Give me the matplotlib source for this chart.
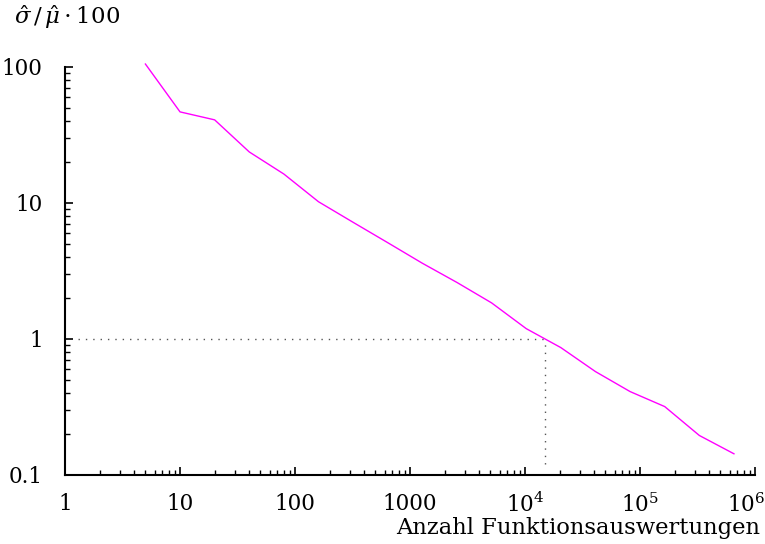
import matplotlib
matplotlib.use("Agg")
import matplotlib.pyplot as plt
from matplotlib.ticker import FixedLocator, FixedFormatter, LogLocator
from matplotlib.transforms import ScaledTranslation

# sample counts (function evaluations) and relative std-error in percent
n_eval = [5, 10, 20, 40, 80, 160, 320, 640, 1280, 2560, 5120,
          10240, 20480, 40960, 81920, 163840, 327680, 655360]
rel_err = [105, 46.7, 40.8, 23.7, 16.3, 10.2, 7.2, 5.1, 3.6, 2.6, 1.84,
           1.19, 0.863, 0.575, 0.41, 0.318, 0.195, 0.143]

target_err = 1.0
target_n = 15000

xticks = [1, 10, 100, 1000, 1e4, 1e5, 1e6]
xticklabels = ["1", "10", "100", "1000", r"$10^4$", r"$10^5$", r"$10^6$"]
yticks = [0.1, 1, 10, 100]
yticklabels = ["0.1", "1", "10", "100"]

plt.rcParams["font.family"] = ["DejaVu Serif"]
plt.rcParams["mathtext.fontset"] = "dejavuserif"

fig = plt.figure(figsize=(7.65, 5.44), dpi=100)
ax = fig.add_axes([0.085, 0.127, 0.902, 0.750])

ax.plot(n_eval, rel_err, color="#ff00ff", lw=1.0, clip_on=False)
ax.plot([1.3, target_n], [target_err, target_err], color="#555555", lw=1.0,
        ls=(0, (1, 4.3)))
ax.plot([target_n, target_n], [0.12, target_err], color="#555555", lw=1.0,
        ls=(0, (1, 4.3)))

ax.set_xscale("log"); ax.set_yscale("log")
ax.set_xlim(1, 1e6); ax.set_ylim(0.1, 100)
for s in ["top", "right"]:
    ax.spines[s].set_visible(False)
for s in ["left", "bottom"]:
    ax.spines[s].set_linewidth(1.5)

ax.xaxis.set_major_locator(FixedLocator(xticks))
ax.xaxis.set_major_formatter(FixedFormatter(xticklabels))
ax.yaxis.set_major_locator(FixedLocator(yticks))
ax.yaxis.set_major_formatter(FixedFormatter(yticklabels))
ax.xaxis.set_minor_locator(LogLocator(base=10, subs=range(2, 10)))
ax.yaxis.set_minor_locator(LogLocator(base=10, subs=range(2, 10)))
ax.xaxis.set_minor_formatter(FixedFormatter([]))
ax.yaxis.set_minor_formatter(FixedFormatter([]))
ax.tick_params(which="major", direction="in", length=6, width=1.2, labelsize=15.5)
ax.tick_params(which="minor", direction="in", length=3.5, width=1.0)
ax.tick_params(axis="y", which="major", pad=16)
ax.tick_params(axis="x", which="major", pad=13)

# last x label sits a little left of its tick so it stays inside the figure
last = ax.get_xticklabels()[-1]
last.set_transform(last.get_transform() + ScaledTranslation(-9 / 100, 0, fig.dpi_scale_trans))

fig.text(0.993, 0.018, "Anzahl Funktionsauswertungen", ha="right", va="baseline",
         fontsize=16.3)
fig.text(0.018, 0.955, r"$\hat{\sigma}\,/\,\hat{\mu}\cdot 100$", ha="left",
         va="baseline", fontsize=16.5)

fig.savefig("out.png", dpi=100)
